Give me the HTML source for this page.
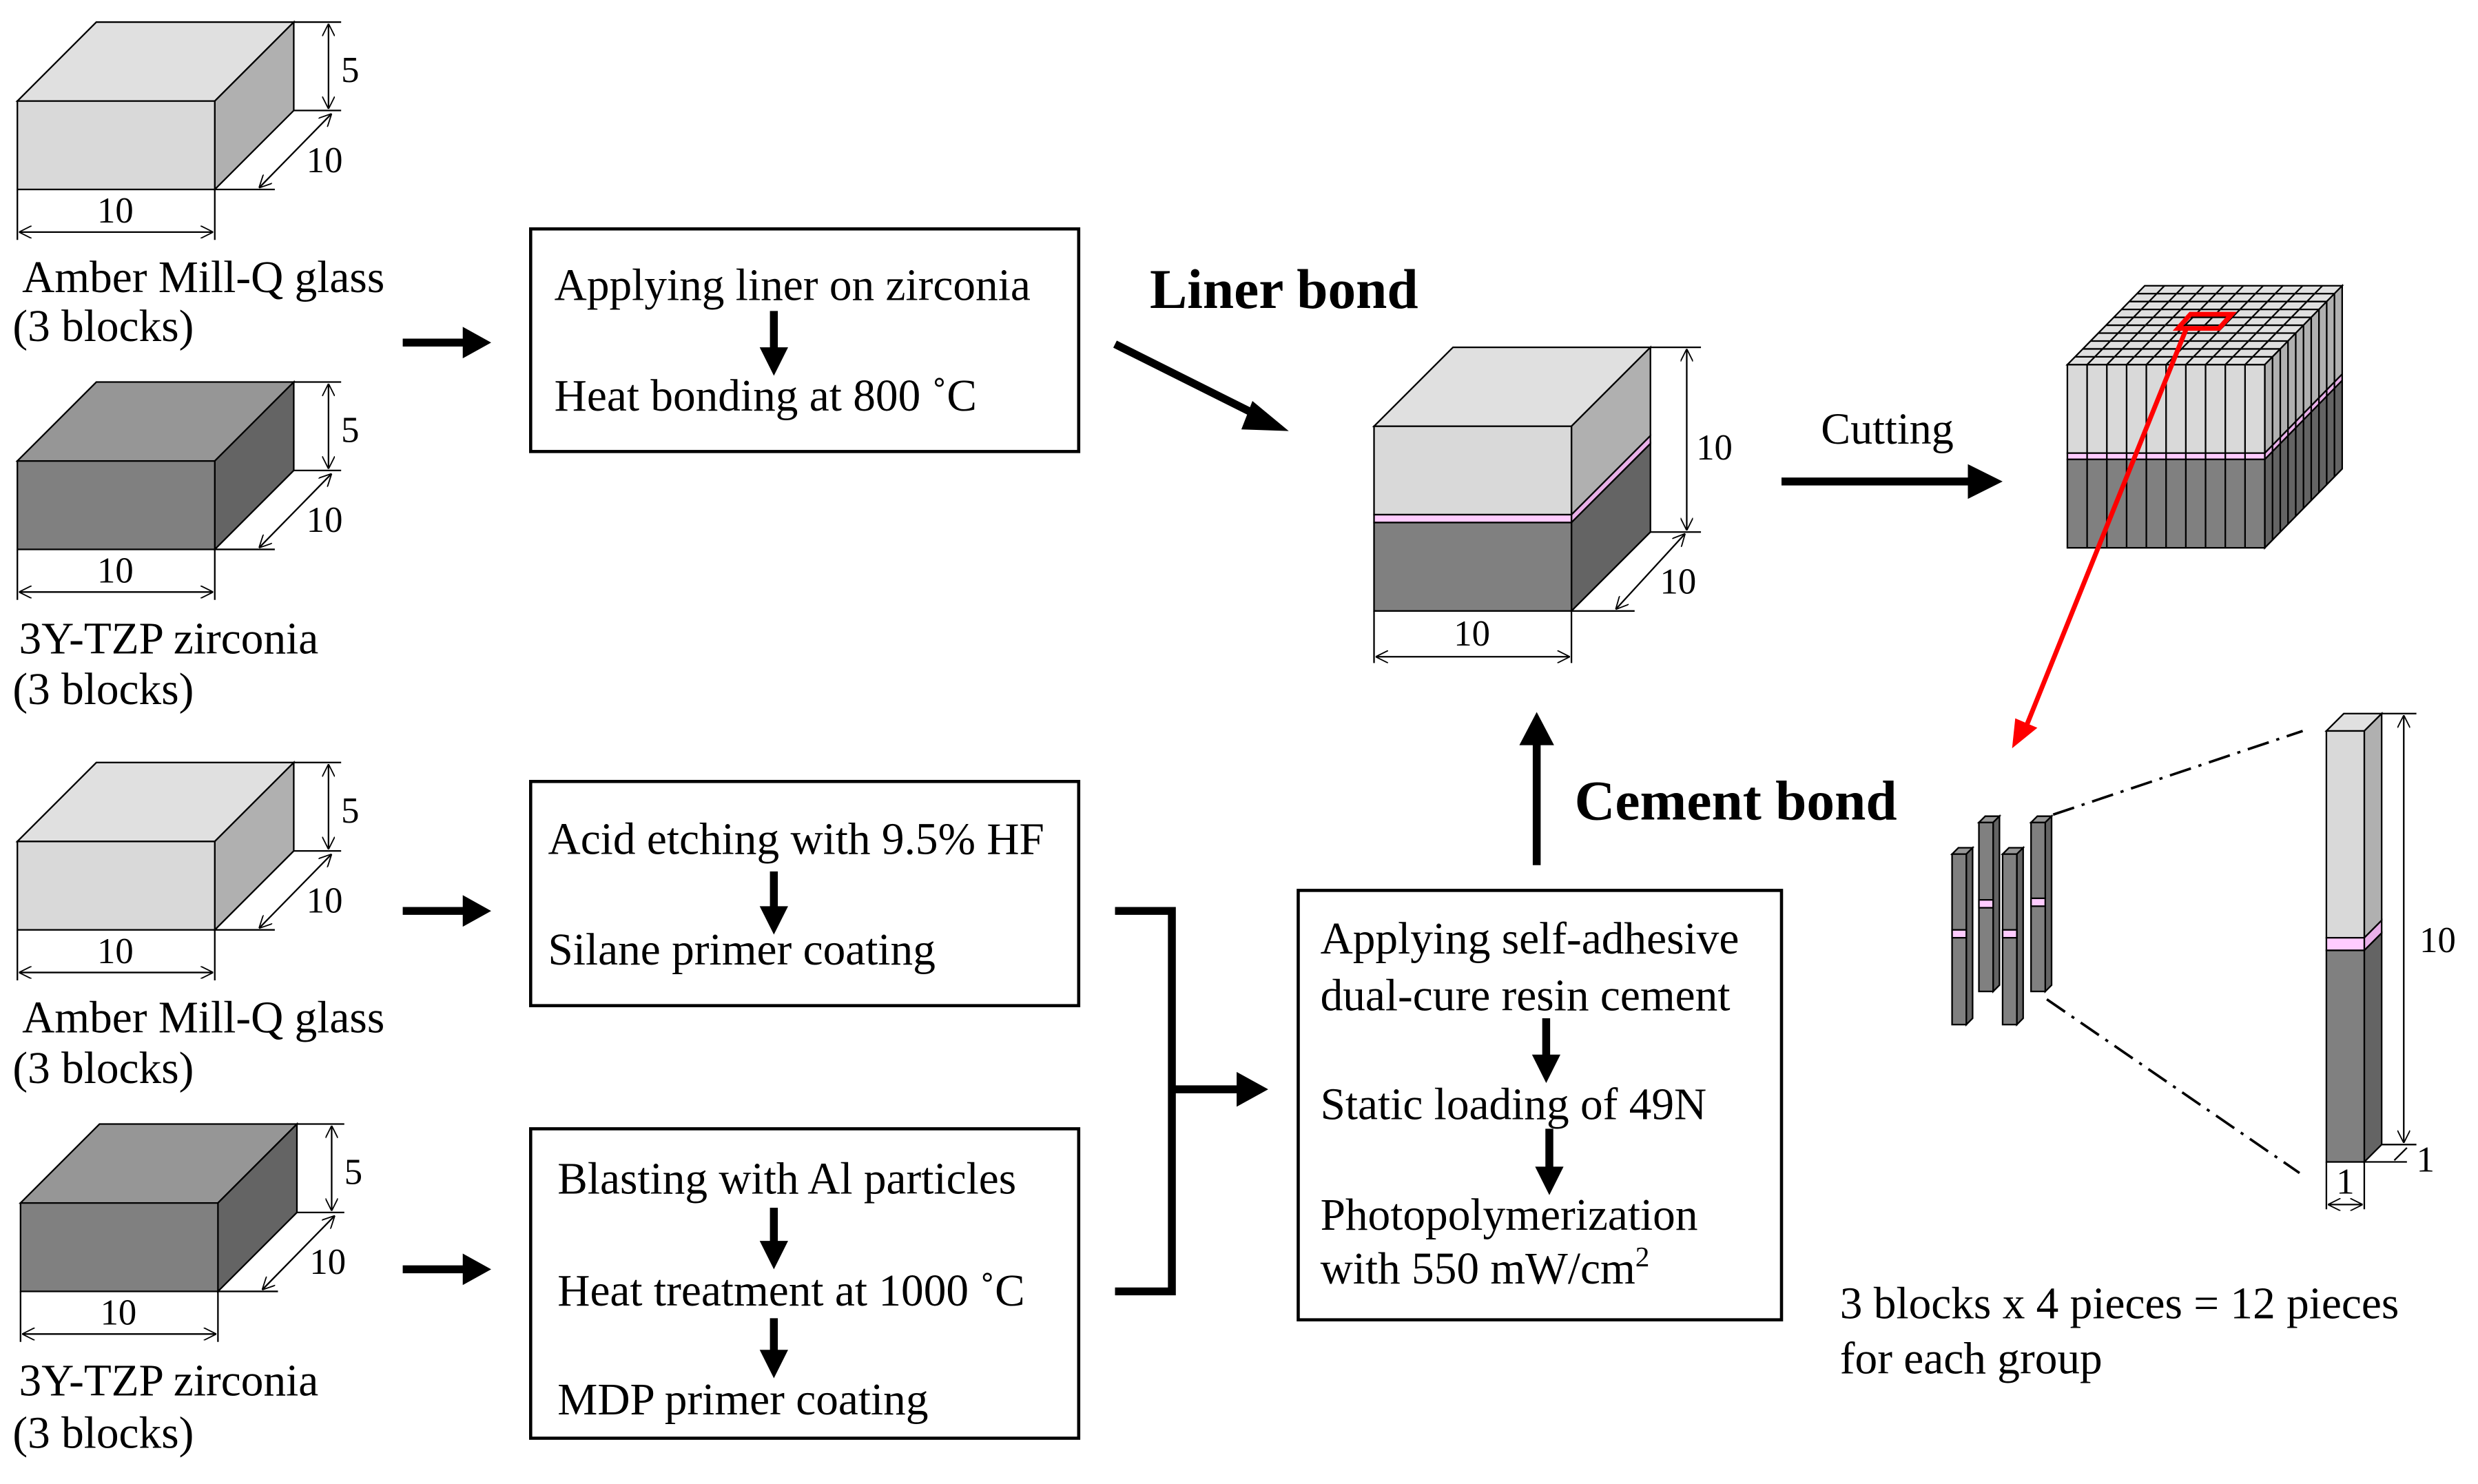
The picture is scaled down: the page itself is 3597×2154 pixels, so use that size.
<!DOCTYPE html>
<html><head><meta charset="utf-8"><style>
html,body{margin:0;padding:0;background:#fff}
svg{display:block}
text{font-family:"Liberation Serif","Times New Roman",serif;fill:#000}
</style></head><body>
<svg width="3597" height="2154" viewBox="0 0 1569 940" preserveAspectRatio="none" xmlns="http://www.w3.org/2000/svg" font-family="Liberation Serif, serif">
<defs>
<marker id="v" viewBox="0 0 10 10" refX="10" refY="5" markerWidth="8" markerHeight="8" orient="auto-start-reverse" markerUnits="userSpaceOnUse"><path d="M0,0 L10,5 L0,10" fill="none" stroke="#000" stroke-width="1"/></marker>
<g id="dims" stroke="#000" stroke-width="1" fill="none">
<line x1="175" y1="0" x2="205" y2="0"/><line x1="175" y1="56" x2="205" y2="56"/>
<line x1="197" y1="1" x2="197" y2="55" marker-start="url(#v)" marker-end="url(#v)"/>
<line x1="125" y1="106" x2="163" y2="106"/>
<line x1="153" y1="105" x2="199" y2="58" marker-start="url(#v)" marker-end="url(#v)"/>
<line x1="0" y1="106" x2="0" y2="138"/><line x1="125" y1="106" x2="125" y2="138"/>
<line x1="1" y1="133" x2="124" y2="133" marker-start="url(#v)" marker-end="url(#v)"/>
</g>
<g id="blkL" stroke="#000" stroke-width="1">
<polygon points="0,50 50,0 175,0 125,50" fill="#e0e0e0"/>
<polygon points="125,50 175,0 175,56 125,106" fill="#b0b0b0"/>
<rect x="0" y="50" width="125" height="56" fill="#d9d9d9"/>
</g>
<g id="blkD" stroke="#000" stroke-width="1">
<polygon points="0,50 50,0 175,0 125,50" fill="#969696"/>
<polygon points="125,50 175,0 175,56 125,106" fill="#646464"/>
<rect x="0" y="50" width="125" height="56" fill="#808080"/>
</g>
<g id="dtext" font-size="23">
<text x="205" y="38">5</text><text x="183" y="95">10</text><text x="62" y="127" text-anchor="middle">10</text>
</g>
</defs>

<g transform="translate(11,14)"><use href="#blkL"/><use href="#dims"/><use href="#dtext"/></g>
<g transform="translate(11,242)"><use href="#blkD"/><use href="#dims"/><use href="#dtext"/></g>
<g transform="translate(11,483)"><use href="#blkL"/><use href="#dims"/><use href="#dtext"/></g>
<g transform="translate(13,712)"><use href="#blkD"/><use href="#dims"/><use href="#dtext"/></g>

<g font-size="28.5">
<text x="14" y="185">Amber Mill-Q glass</text><text x="8" y="216">(3 blocks)</text>
<text x="12" y="414">3Y-TZP zirconia</text><text x="8" y="446">(3 blocks)</text>
<text x="14" y="654">Amber Mill-Q glass</text><text x="8" y="686">(3 blocks)</text>
<text x="12" y="884">3Y-TZP zirconia</text><text x="8" y="917">(3 blocks)</text>
</g>

<g stroke="#000" stroke-width="5" fill="#000">
<line x1="255" y1="217" x2="295" y2="217"/><polygon points="293,207 311,217 293,227" stroke="none"/>
<line x1="255" y1="577" x2="295" y2="577"/><polygon points="293,567 311,577 293,587" stroke="none"/>
<line x1="255" y1="804" x2="295" y2="804"/><polygon points="293,794 311,804 293,814" stroke="none"/>
</g>

<g fill="none" stroke="#000" stroke-width="2">
<rect x="336" y="145" width="347" height="141"/>
<rect x="336" y="495" width="347" height="142"/>
<rect x="336" y="715" width="347" height="196"/>
<rect x="822" y="564" width="306" height="272"/>
</g>
<g font-size="28.5">
<text x="351" y="190">Applying liner on zirconia</text>
<text x="351" y="260">Heat bonding at 800 ˚C</text>
<text x="347" y="541">Acid etching with 9.5%  HF</text>
<text x="347" y="611">Silane primer coating</text>
<text x="353" y="756">Blasting with Al particles</text>
<text x="353" y="827">Heat treatment at 1000 ˚C</text>
<text x="353" y="896">MDP primer coating</text>
<text x="836" y="604">Applying self-adhesive</text>
<text x="836" y="640">dual-cure resin cement</text>
<text x="836" y="709">Static loading of 49N</text>
<text x="836" y="779">Photopolymerization</text>
<text x="836" y="813">with 550 mW/cm<tspan font-size="18" dy="-11">2</tspan></text>
</g>
<g fill="#000" stroke="#000" stroke-width="5">
<line x1="490" y1="197" x2="490" y2="222"/><polygon points="481,220 499,220 490,238" stroke="none"/>
<line x1="490" y1="552" x2="490" y2="576"/><polygon points="481,574 499,574 490,592" stroke="none"/>
<line x1="490" y1="765" x2="490" y2="788"/><polygon points="481,786 499,786 490,804" stroke="none"/>
<line x1="490" y1="835" x2="490" y2="857"/><polygon points="481,855 499,855 490,873" stroke="none"/>
<line x1="979" y1="645" x2="979" y2="670"/><polygon points="970,668 988,668 979,686" stroke="none"/>
<line x1="981" y1="715" x2="981" y2="741"/><polygon points="972,739 990,739 981,757" stroke="none"/>
</g>

<g stroke="#000" stroke-width="5" fill="#000">
<line x1="706" y1="218" x2="800" y2="265"/>
<polygon points="793,254 816,273 786,272" stroke="none"/>
</g>
<text x="728" y="195" font-size="35.5" font-weight="bold">Liner bond</text>

<g stroke="#000" stroke-width="1">
<polygon points="870,270 920,220 1045,220 995,270" fill="#e0e0e0"/>
<polygon points="995,270 1045,220 1045,276 995,326" fill="#b0b0b0"/>
<polygon points="995,326 1045,276 1045,281 995,331" fill="#e9b0e9"/>
<polygon points="995,331 1045,281 1045,337 995,387" fill="#646464"/>
<rect x="870" y="270" width="125" height="56" fill="#d9d9d9"/>
<rect x="870" y="326" width="125" height="5" fill="#ffccff"/>
<rect x="870" y="331" width="125" height="56" fill="#808080"/>
</g>
<g stroke="#000" stroke-width="1" fill="none">
<line x1="1045" y1="220" x2="1077" y2="220"/><line x1="1045" y1="337" x2="1077" y2="337"/>
<line x1="1068" y1="221" x2="1068" y2="336" marker-start="url(#v)" marker-end="url(#v)"/>
<line x1="995" y1="387" x2="1035" y2="387"/>
<line x1="1023" y1="386" x2="1067" y2="338" marker-start="url(#v)" marker-end="url(#v)"/>
<line x1="870" y1="387" x2="870" y2="420"/><line x1="995" y1="387" x2="995" y2="420"/>
<line x1="871" y1="416" x2="994" y2="416" marker-start="url(#v)" marker-end="url(#v)"/>
</g>
<g font-size="23">
<text x="1074" y="291">10</text><text x="1051" y="376">10</text><text x="932" y="409" text-anchor="middle">10</text>
</g>

<g stroke="#000" stroke-width="5" fill="#000">
<line x1="1128" y1="305" x2="1250" y2="305"/><polygon points="1246,294 1268,305 1246,316" stroke="none"/>
</g>
<text x="1153" y="281" font-size="28">Cutting</text>

<g stroke="#000" stroke-width="1">
<polygon points="1309,231 1358,181 1483,181 1434,231" fill="#e0e0e0"/>
<polygon points="1434,231 1483,181 1483,237 1434,287" fill="#b0b0b0"/>
<polygon points="1434,287 1483,237 1483,241 1434,291" fill="#e9b0e9"/>
<polygon points="1434,291 1483,241 1483,297 1434,347" fill="#646464"/>
<rect x="1309" y="231" width="125" height="56" fill="#d9d9d9"/>
<rect x="1309" y="287" width="125" height="4" fill="#ffccff"/>
<rect x="1309" y="291" width="125" height="56" fill="#808080"/>
</g>
<g stroke="#000" stroke-width="1">
<line x1="1321.5" y1="231" x2="1321.5" y2="347"/>
<line x1="1334" y1="231" x2="1334" y2="347"/><line x1="1346.5" y1="231" x2="1346.5" y2="347"/>
<line x1="1359" y1="231" x2="1359" y2="347"/><line x1="1371.5" y1="231" x2="1371.5" y2="347"/>
<line x1="1384" y1="231" x2="1384" y2="347"/><line x1="1396.5" y1="231" x2="1396.5" y2="347"/>
<line x1="1409" y1="231" x2="1409" y2="347"/><line x1="1421.5" y1="231" x2="1421.5" y2="347"/>
<line x1="1321.5" y1="231" x2="1370.5" y2="181"/><line x1="1334" y1="231" x2="1383" y2="181"/>
<line x1="1346.5" y1="231" x2="1395.5" y2="181"/><line x1="1359" y1="231" x2="1408" y2="181"/>
<line x1="1371.5" y1="231" x2="1420.5" y2="181"/><line x1="1384" y1="231" x2="1433" y2="181"/>
<line x1="1396.5" y1="231" x2="1445.5" y2="181"/><line x1="1409" y1="231" x2="1458" y2="181"/>
<line x1="1421.5" y1="231" x2="1470.5" y2="181"/>
<line x1="1313.9" y1="226" x2="1438.9" y2="226"/><line x1="1318.8" y1="221" x2="1443.8" y2="221"/>
<line x1="1323.7" y1="216" x2="1448.7" y2="216"/><line x1="1328.6" y1="211" x2="1453.6" y2="211"/>
<line x1="1333.5" y1="206" x2="1458.5" y2="206"/><line x1="1338.4" y1="201" x2="1463.4" y2="201"/>
<line x1="1343.3" y1="196" x2="1468.3" y2="196"/><line x1="1348.2" y1="191" x2="1473.2" y2="191"/>
<line x1="1353.1" y1="186" x2="1478.1" y2="186"/>
<line x1="1438.9" y1="226" x2="1438.9" y2="342"/><line x1="1443.8" y1="221" x2="1443.8" y2="337"/>
<line x1="1448.7" y1="216" x2="1448.7" y2="332"/><line x1="1453.6" y1="211" x2="1453.6" y2="327"/>
<line x1="1458.5" y1="206" x2="1458.5" y2="322"/><line x1="1463.4" y1="201" x2="1463.4" y2="317"/>
<line x1="1468.3" y1="196" x2="1468.3" y2="312"/><line x1="1473.2" y1="191" x2="1473.2" y2="307"/>
<line x1="1478.1" y1="186" x2="1478.1" y2="302"/>
</g>
<g stroke="#ff0000" stroke-width="3" fill="none">
<polygon points="1387,199 1413,199 1405,208 1379,208"/>
<line x1="1384" y1="209" x2="1283" y2="460"/>
</g>
<polygon points="1274,474 1276,455 1290,461" fill="#ff0000"/>

<g stroke="#000" stroke-width="5" fill="#000">
<line x1="973" y1="548" x2="973" y2="470"/><polygon points="962,472 973,451 984,472" stroke="none"/>
</g>
<text x="997" y="519" font-size="35.5" font-weight="bold">Cement bond</text>

<g stroke="#000" stroke-width="5" fill="none">
<polyline points="706,577 742,577 742,818 706,818"/>
<line x1="742" y1="690" x2="786" y2="690"/>
</g>
<polygon points="783,679 803,690 783,701" fill="#000"/>

<g stroke="#000" stroke-width="1">
<g>
<polygon points="1236,541 1240,537 1249,537 1245,541" fill="#969696"/>
<polygon points="1245,541 1249,537 1249,645 1245,649" fill="#646464"/>
<rect x="1236" y="541" width="9" height="108" fill="#808080"/>
<rect x="1236" y="589" width="9" height="5" fill="#ffccff"/>
</g>
<g>
<polygon points="1253,521 1257,517 1266,517 1262,521" fill="#969696"/>
<polygon points="1262,521 1266,517 1266,624 1262,628" fill="#646464"/>
<rect x="1253" y="521" width="9" height="107" fill="#808080"/>
<rect x="1253" y="570" width="9" height="5" fill="#ffccff"/>
</g>
<g>
<polygon points="1268,541 1272,537 1281,537 1277,541" fill="#969696"/>
<polygon points="1277,541 1281,537 1281,645 1277,649" fill="#646464"/>
<rect x="1268" y="541" width="9" height="108" fill="#808080"/>
<rect x="1268" y="589" width="9" height="5" fill="#ffccff"/>
</g>
<g>
<polygon points="1286,521 1290,517 1299,517 1295,521" fill="#969696"/>
<polygon points="1295,521 1299,517 1299,624 1295,628" fill="#646464"/>
<rect x="1286" y="521" width="9" height="107" fill="#808080"/>
<rect x="1286" y="569" width="9" height="5" fill="#ffccff"/>
</g>
</g>
<g stroke="#000" stroke-width="1.6" stroke-dasharray="14,5,2,5" fill="none">
<line x1="1300" y1="516" x2="1458" y2="463"/>
<line x1="1296" y1="633" x2="1456" y2="743"/>
</g>

<g stroke="#000" stroke-width="1">
<polygon points="1473,463 1484,452 1508,452 1497,463" fill="#e0e0e0"/>
<polygon points="1497,463 1508,452 1508,583 1497,594" fill="#b0b0b0"/>
<polygon points="1497,594 1508,583 1508,591 1497,602" fill="#e9b0e9"/>
<polygon points="1497,602 1508,591 1508,725 1497,736" fill="#646464"/>
<rect x="1473" y="463" width="24" height="131" fill="#d9d9d9"/>
<rect x="1473" y="594" width="24" height="8" fill="#ffccff"/>
<rect x="1473" y="602" width="24" height="134" fill="#808080"/>
</g>
<g stroke="#000" stroke-width="1" fill="none">
<line x1="1508" y1="452" x2="1530" y2="452"/><line x1="1508" y1="725" x2="1530" y2="725"/>
<line x1="1522" y1="453" x2="1522" y2="724" marker-start="url(#v)" marker-end="url(#v)"/>
<line x1="1497" y1="736" x2="1524" y2="736"/>
<line x1="1516" y1="735" x2="1524" y2="727"/>
<line x1="1473" y1="736" x2="1473" y2="766"/><line x1="1497" y1="736" x2="1497" y2="766"/>
<line x1="1474" y1="763" x2="1496" y2="763" marker-start="url(#v)" marker-end="url(#v)"/>
</g>
<g font-size="23">
<text x="1532" y="603">10</text><text x="1530" y="742">1</text><text x="1485" y="756" text-anchor="middle">1</text>
</g>

<g font-size="28.5">
<text x="1165" y="835">3 blocks x 4 pieces = 12 pieces</text>
<text x="1165" y="870">for each group</text>
</g>
</svg>
</body></html>
